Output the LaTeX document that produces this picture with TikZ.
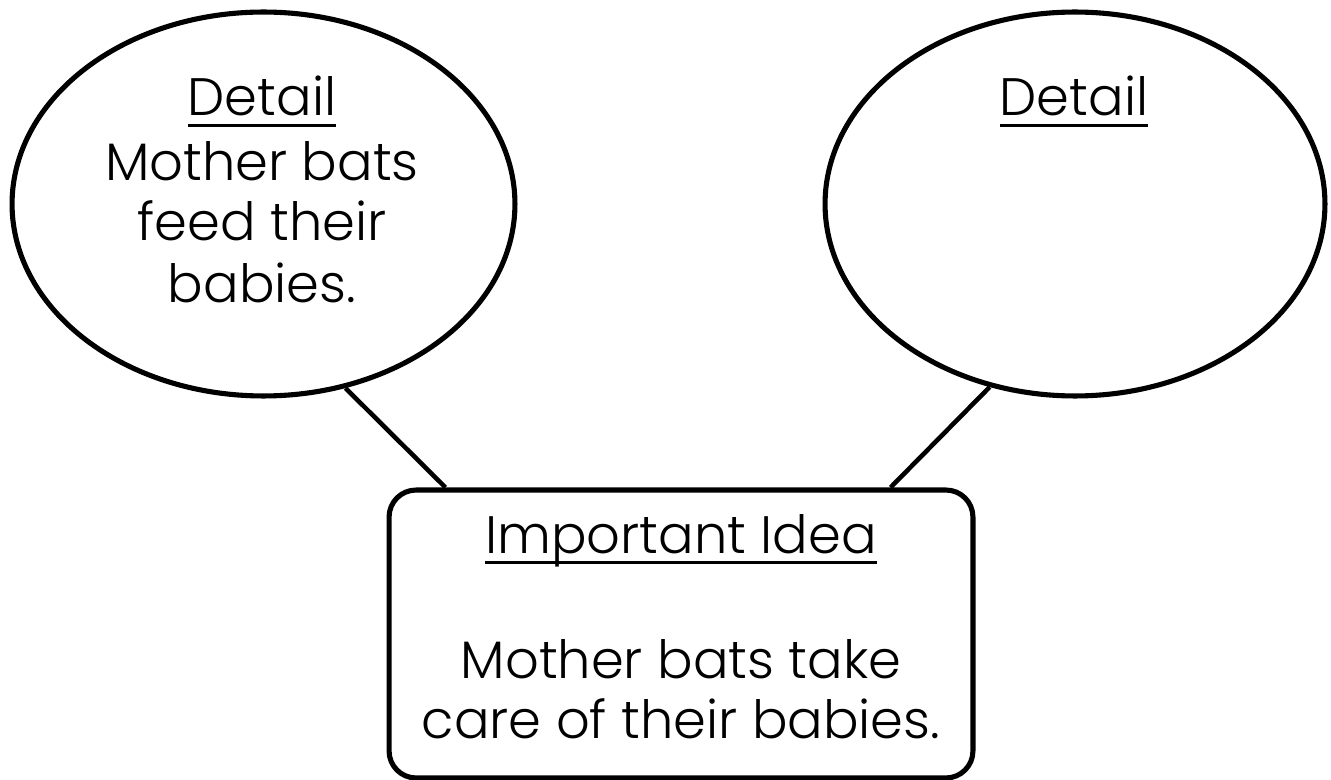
\documentclass[tikz,border=0pt]{standalone}
\usepackage{fontspec}
\setmainfont{Poppins}[UprightFont=* Light]
\usetikzlibrary{shapes.geometric,positioning}

\newcommand{\undl}[1]{{\setbox0\hbox{#1}\leavevmode\rlap{\raisebox{-0.2em}{\rule{\wd0}{0.045em}}}\box0}}

\begin{document}
\begin{tikzpicture}[x=0.02cm,y=-0.02cm,
    bubble/.style={draw,ellipse,line width=2.9pt,inner sep=0pt},
    txt/.style={anchor=base,inner sep=0pt,font=\fontsize{30pt}{35pt}\selectfont}]
    \useasboundingbox (0,0) rectangle (1331,780);
    \node[bubble,minimum width=10.06cm,minimum height=7.68cm] (ld) at (263.5,204) {};
    \node[bubble,minimum width=10cm,minimum height=7.68cm] (rd) at (1075,204) {};
    \node[draw,rectangle,rounded corners=0.54cm,line width=2.9pt,minimum width=11.68cm,minimum height=5.76cm] (idea) at (681,634) {};
    % left bubble
    \node[txt] (ld1) at (262,116) {\undl{Detail}};
    \node[txt] (ld2) at (262,181) {Mother bats};
    \node[txt] (ld3) at (262,241) {feed their};
    \node[txt] (ld4) at (262,303) {babies.};
    % right bubble
    \node[txt] (rd1) at (1074,116) {\undl{Detail}};
    % main idea
    \node[txt] (id1) at (681,553) {\undl{Important Idea}};
    \node[txt] (id2) at (681,678) {Mother bats take};
    \node[txt] (id3) at (681,738) {care of their babies.};
    \draw[line width=2.6pt] (ld.-66) -- ([xshift=1.18cm]idea.north west);
    \draw[line width=2.6pt] (rd.-115) -- ([xshift=-1.7cm]idea.north east);
\end{tikzpicture}
\end{document}
